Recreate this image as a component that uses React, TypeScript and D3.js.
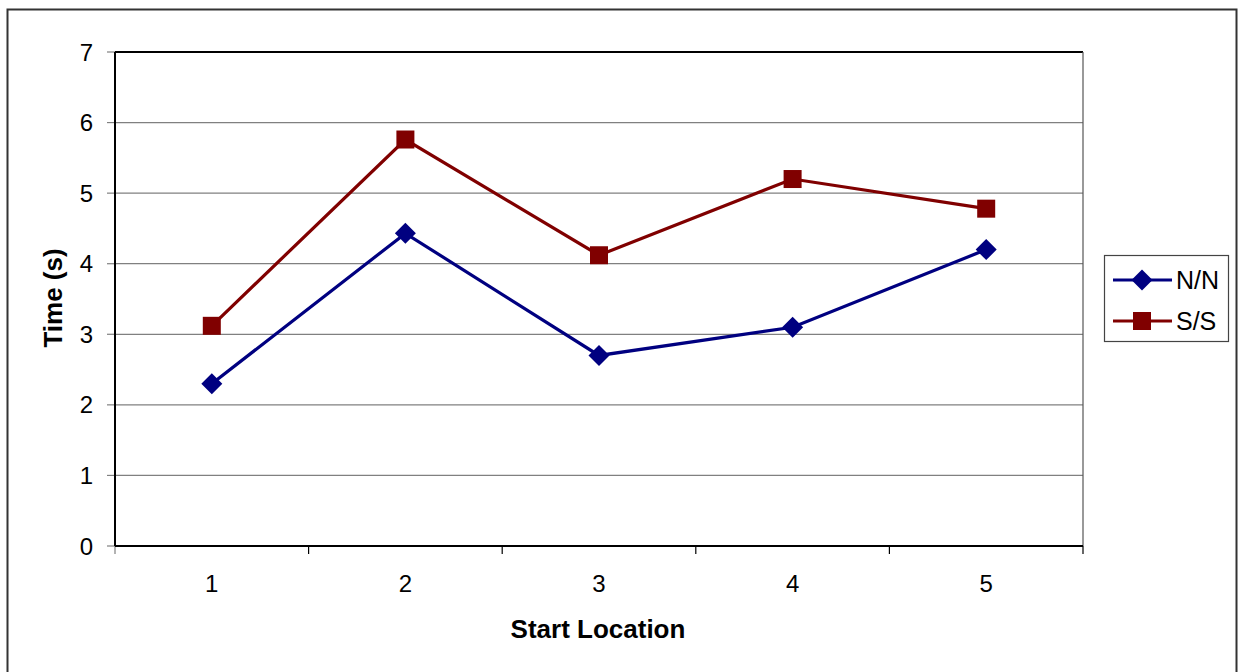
import React from "react";
import * as d3 from "d3";

const categories = ["1", "2", "3", "4", "5"];
const seriesNames = ["N/N", "S/S"];
const nnValues = [2.3, 4.43, 2.7, 3.1, 4.2];
const ssValues = [3.12, 5.76, 4.12, 5.2, 4.78];
const yTicks = [0, 1, 2, 3, 4, 5, 6, 7];

const W = 1244;
const H = 672;
const plot = { left: 115, top: 52, right: 1083, bottom: 546 };
const colors = ["#000080", "#800000"];
const font = "'Liberation Sans', Arial, sans-serif";

export default function App() {
  const x = d3
    .scaleBand<string>()
    .domain(categories)
    .range([plot.left, plot.right]);
  const y = d3.scaleLinear().domain([0, 7]).range([plot.bottom, plot.top]);
  const cx = (c: string) => (x(c) as number) + x.bandwidth() / 2;

  const line = d3
    .line<[string, number]>()
    .x((d) => cx(d[0]))
    .y((d) => y(d[1]));

  const series = [nnValues, ssValues].map((vals) =>
    categories.map((c, i) => [c, vals[i]] as [string, number])
  );

  const diamond = (px: number, py: number, r: number) =>
    `M${px},${py - r}L${px + r},${py}L${px},${py + r}L${px - r},${py}Z`;

  const marker = (si: number, px: number, py: number, key: string) =>
    si === 0 ? (
      <path key={key} d={diamond(px, py, 10.5)} fill={colors[0]} />
    ) : (
      <rect key={key} x={px - 9} y={py - 9} width={18} height={18} fill={colors[1]} />
    );

  const boundaries = [...categories.map((c) => x(c) as number), plot.right];

  return (
    <svg
      width={W}
      height={H}
      style={{ position: "absolute", left: 0, top: 0, background: "#fff" }}
      fontFamily={font}
    >
      {/* chart frame */}
      <rect x={7.5} y={9.5} width={1229} height={680} fill="#fff" stroke="#333" strokeWidth={2} />

      {/* gridlines */}
      {yTicks.slice(1, -1).map((t) => (
        <line key={t} x1={plot.left} x2={plot.right} y1={y(t)} y2={y(t)} stroke="#808080" strokeWidth={1.2} />
      ))}

      {/* plot area border */}
      <line x1={plot.left} x2={plot.right} y1={plot.top} y2={plot.top} stroke="#000" strokeWidth={2} />
      <line x1={plot.right} x2={plot.right} y1={plot.top} y2={plot.bottom} stroke="#555" strokeWidth={1.2} />

      {/* y axis */}
      {yTicks.map((t) => (
        <g key={t}>
          <line x1={plot.left - 8} x2={plot.left} y1={y(t)} y2={y(t)} stroke="#808080" strokeWidth={1.2} />
          <text x={93} y={y(t)} dy="0.36em" textAnchor="end" fontSize={24} fill="#000">
            {t}
          </text>
        </g>
      ))}
      <line x1={plot.left} x2={plot.left} y1={plot.top} y2={plot.bottom} stroke="#000" strokeWidth={2} />

      {/* x axis */}
      {boundaries.map((b, i) => (
        <line key={i} x1={b} x2={b} y1={plot.bottom} y2={plot.bottom + 8} stroke={i === 0 ? "#808080" : "#000"} strokeWidth={1.2} />
      ))}
      <line x1={plot.left} x2={plot.right} y1={plot.bottom} y2={plot.bottom} stroke="#000" strokeWidth={2} />
      {categories.map((c) => (
        <text key={c} x={cx(c)} y={583.5} dy="0.36em" textAnchor="middle" fontSize={24} fill="#000">
          {c}
        </text>
      ))}

      {/* axis titles */}
      <text x={598} y={628.5} dy="0.36em" textAnchor="middle" fontSize={26} fontWeight="bold">
        Start Location
      </text>
      <text
        transform={`translate(53,298) rotate(-90)`}
        dy="0.36em"
        textAnchor="middle"
        fontSize={26}
        fontWeight="bold"
      >
        Time (s)
      </text>

      {/* series */}
      {series.map((s, si) => (
        <g key={si}>
          <path d={line(s) as string} fill="none" stroke={colors[si]} strokeWidth={3.2} />
          {s.map((d, i) => marker(si, cx(d[0]), y(d[1]), `${si}-${i}`))}
        </g>
      ))}

      {/* legend */}
      <rect x={1104.5} y={255.5} width={124} height={86} fill="#fff" stroke="#444" strokeWidth={1.2} />
      {seriesNames.map((n, i) => {
        const ly = 280 + i * 41;
        return (
          <g key={n}>
            <line x1={1113} x2={1172} y1={ly} y2={ly} stroke={colors[i]} strokeWidth={3.2} />
            {marker(i, 1142, ly, `leg-${i}`)}
            <text x={1176} y={ly} dy="0.36em" fontSize={25}>
              {n}
            </text>
          </g>
        );
      })}
    </svg>
  );
}
